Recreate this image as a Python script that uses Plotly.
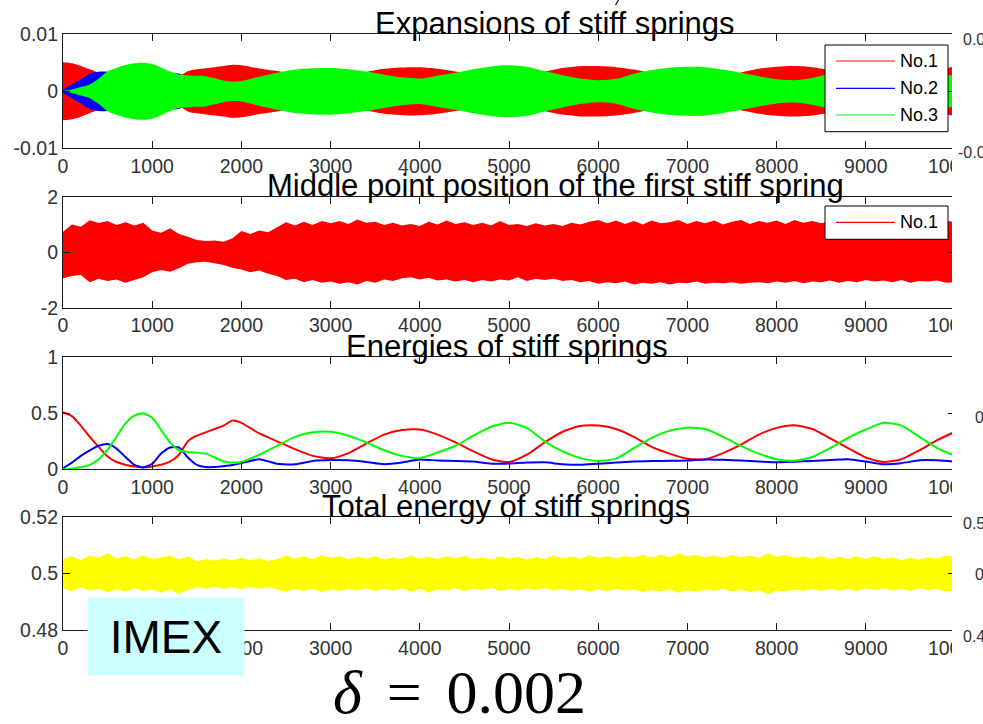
import plotly.graph_objects as go

W, H = 983, 724

# ---------------------------------------------------------------- data
# time grid for the slowly varying quantities (finer at the start)
t_energy = list(range(0, 2001, 100)) + list(range(2200, 10001, 200))
# time grid for the fast, noisy envelopes
t_fine = list(range(0, 10001, 100))
x_ticks = list(range(0, 10001, 1000))

# energies of the three stiff springs
energy_1 = [0.51, 0.475, 0.39, 0.29, 0.20, 0.115, 0.065, 0.04, 0.025, 0.018, 0.026,
            0.04, 0.068, 0.13, 0.25, 0.30, 0.33, 0.36, 0.39, 0.435, 0.415,
            0.32, 0.25, 0.18, 0.12, 0.098, 0.145, 0.23, 0.31, 0.35, 0.355,
            0.31, 0.24, 0.16, 0.09, 0.065, 0.13, 0.24, 0.335, 0.387, 0.39,
            0.36, 0.29, 0.2, 0.14, 0.095, 0.09, 0.145, 0.22, 0.31, 0.37,
            0.393, 0.36, 0.277, 0.19, 0.105, 0.065, 0.09, 0.17, 0.26, 0.335]
energy_2 = [0.01, 0.06, 0.12, 0.17, 0.21, 0.225, 0.185, 0.11, 0.04, 0.017, 0.05,
            0.14, 0.195, 0.195, 0.105, 0.04, 0.02, 0.02, 0.028, 0.038, 0.055,
            0.09, 0.05, 0.045, 0.075, 0.083, 0.08, 0.065, 0.045, 0.06, 0.088,
            0.078, 0.075, 0.07, 0.05, 0.052, 0.06, 0.062, 0.045, 0.04, 0.05,
            0.06, 0.07, 0.074, 0.076, 0.078, 0.088, 0.085, 0.078, 0.07, 0.062,
            0.068, 0.074, 0.082, 0.09, 0.07, 0.045, 0.055, 0.08, 0.08, 0.068]
energy_3 = [0.0, 0.006, 0.02, 0.04, 0.09, 0.175, 0.29, 0.41, 0.48, 0.5, 0.46,
            0.35, 0.24, 0.17, 0.155, 0.148, 0.14, 0.105, 0.072, 0.058, 0.065,
            0.13, 0.21, 0.29, 0.33, 0.336, 0.30, 0.24, 0.17, 0.12, 0.1,
            0.15, 0.21, 0.3, 0.38, 0.415, 0.37, 0.25, 0.16, 0.1, 0.075,
            0.095, 0.19, 0.28, 0.345, 0.372, 0.36, 0.29, 0.21, 0.14, 0.09,
            0.077, 0.11, 0.19, 0.28, 0.355, 0.415, 0.39, 0.29, 0.19, 0.12]

# oscillation amplitude of each spring's expansion, in units of 1e-3
expansion_1_e3 = [5.1, 4.9, 4.45, 3.85, 3.2, 2.4, 1.8, 1.4, 1.1, 0.95, 1.15,
                  1.41, 1.84, 2.55, 3.54, 3.87, 4.06, 4.24, 4.42, 4.66, 4.56,
                  4.0, 3.54, 3.0, 2.45, 2.21, 2.69, 3.39, 3.94, 4.18, 4.21,
                  3.94, 3.46, 2.83, 2.12, 1.8, 2.55, 3.46, 4.09, 4.4, 4.42,
                  4.24, 3.81, 3.16, 2.65, 2.18, 2.12, 2.69, 3.32, 3.94, 4.3,
                  4.43, 4.24, 3.72, 3.08, 2.29, 1.8, 2.12, 2.92, 3.6, 4.09]
expansion_2_e3 = [0.3, 1.2, 2.1, 3.1, 3.45, 3.45, 3.1, 2.4, 1.45, 0.95, 1.55,
                  2.65, 3.12, 3.12, 2.3, 1.41, 1.0, 1.0, 1.18, 1.38, 1.66,
                  2.12, 1.58, 1.5, 1.94, 2.04, 2.0, 1.8, 1.5, 1.73, 2.1,
                  1.97, 1.94, 1.87, 1.58, 1.61, 1.73, 1.76, 1.5, 1.41, 1.58,
                  1.73, 1.87, 1.92, 1.95, 1.97, 2.1, 2.06, 1.97, 1.87, 1.76,
                  1.84, 1.92, 2.02, 2.12, 1.87, 1.5, 1.66, 2.0, 2.0, 1.84]
expansion_3_e3 = [0.0, 0.3, 0.75, 1.2, 2.2, 3.5, 4.1, 4.6, 4.9, 5.0, 4.8,
                  4.18, 3.46, 2.95, 2.78, 2.72, 2.65, 2.29, 1.9, 1.7, 1.8,
                  2.55, 3.24, 3.81, 4.06, 4.1, 3.87, 3.46, 2.92, 2.45, 2.24,
                  2.74, 3.24, 3.87, 4.36, 4.55, 4.3, 3.54, 2.83, 2.24, 1.94,
                  2.18, 3.08, 3.74, 4.15, 4.31, 4.24, 3.81, 3.24, 2.65, 2.12,
                  1.96, 2.35, 3.08, 3.74, 4.21, 4.55, 4.42, 3.81, 3.08, 2.45]

# extremes of the middle point position of spring No.1
mid_upper = [0.74, 1.0, 0.92, 1.15, 1.05, 1.12, 0.98, 1.08, 0.96, 1.06,
             0.78, 0.7, 0.86, 0.66, 0.56, 0.44, 0.4, 0.42, 0.38, 0.5,
             0.76, 0.66, 0.78, 0.72, 0.9, 1.08, 0.96, 1.1, 0.98, 1.12,
             1.04, 1.12, 1.02, 1.18, 1.06, 1.1, 0.98, 1.06, 0.96, 1.02,
             0.94, 1.1, 1.0, 1.14, 1.02, 1.08, 0.98, 1.06, 0.96, 1.12,
             0.98, 1.02, 0.94, 1.04, 0.96, 1.02, 0.94, 1.06, 1.0, 1.1,
             1.16, 1.04, 1.14, 1.02, 1.12, 1.0, 1.14, 1.04, 1.08, 1.16,
             1.02, 1.12, 1.04, 1.14, 1.0, 1.1, 1.16, 1.02, 1.12, 1.06,
             1.14, 1.02, 1.16, 1.06, 1.12, 1.04, 1.1, 1.16, 1.04, 1.12,
             1.06, 1.14, 1.02, 1.1, 1.06, 1.14, 1.02, 1.12, 1.04, 1.14,
             1.08]
mid_lower = [-0.94, -0.86, -0.82, -1.08, -0.96, -1.04, -0.98, -1.1, -1.0, -0.9,
             -0.72, -0.64, -0.7, -0.58, -0.42, -0.36, -0.34, -0.4, -0.46, -0.56,
             -0.62, -0.72, -0.66, -0.78, -0.86, -1.0, -0.96, -1.08, -1.0, -1.1,
             -1.06, -1.14, -1.08, -1.16, -1.04, -1.1, -0.98, -1.04, -0.94, -0.9,
             -0.98, -0.92, -1.02, -0.98, -1.06, -1.0, -1.08, -1.0, -1.06, -0.98,
             -1.02, -0.9, -1.04, -0.96, -1.0, -0.96, -1.04, -1.0, -1.08, -1.04,
             -1.14, -1.08, -1.12, -1.06, -1.16, -1.1, -1.14, -1.08, -1.16, -1.1,
             -1.12, -1.06, -1.14, -1.1, -1.12, -1.08, -1.14, -1.1, -1.08, -1.12,
             -1.06, -1.1, -1.04, -1.12, -1.06, -1.08, -1.02, -1.1, -1.04, -1.08,
             -1.0, -1.06, -1.02, -1.08, -1.0, -1.1, -1.04, -1.06, -1.02, -1.1,
             -1.08]

# extremes of the total energy of the stiff springs
total_upper = [0.5052, 0.5062, 0.5048, 0.5064, 0.5056, 0.5072, 0.5054, 0.5063, 0.505, 0.5066,
               0.5052, 0.5058, 0.5064, 0.505, 0.5062, 0.5044, 0.5052, 0.5046, 0.5054, 0.5048,
               0.5056, 0.5047, 0.5055, 0.5045, 0.5052, 0.5064, 0.5054, 0.5062, 0.5052, 0.5066,
               0.5056, 0.5063, 0.5052, 0.506, 0.5054, 0.5062, 0.505, 0.5058, 0.5052, 0.5064,
               0.5054, 0.506, 0.5052, 0.5062, 0.5055, 0.5063, 0.5052, 0.5058, 0.505, 0.5062,
               0.5054, 0.506, 0.505, 0.5058, 0.5052, 0.5064, 0.5055, 0.5061, 0.5053, 0.5066,
               0.5056, 0.5062, 0.5054, 0.5063, 0.5058, 0.5066, 0.5056, 0.5068, 0.5058, 0.5072,
               0.5062, 0.5066, 0.5058, 0.5064, 0.5056, 0.5066, 0.5058, 0.5064, 0.5056, 0.5072,
               0.506, 0.5066, 0.5056, 0.5062, 0.5054, 0.5063, 0.5052, 0.506, 0.5054, 0.5061,
               0.5052, 0.5062, 0.5052, 0.5058, 0.5048, 0.5056, 0.505, 0.5058, 0.5054, 0.5064,
               0.5058]
total_lower = [0.4948, 0.4938, 0.4952, 0.494, 0.4946, 0.4934, 0.4945, 0.4936, 0.4948, 0.4938,
               0.4944, 0.4932, 0.4944, 0.4928, 0.4942, 0.4952, 0.4946, 0.4954, 0.4946, 0.4952,
               0.4945, 0.4953, 0.4946, 0.4952, 0.4944, 0.4936, 0.4946, 0.4938, 0.4946, 0.4934,
               0.4944, 0.4938, 0.4946, 0.494, 0.4948, 0.4938, 0.4946, 0.494, 0.4948, 0.4936,
               0.4946, 0.4932, 0.4944, 0.494, 0.4948, 0.4938, 0.4946, 0.4942, 0.495, 0.4938,
               0.4946, 0.494, 0.4948, 0.4942, 0.495, 0.494, 0.4946, 0.4938, 0.4945, 0.4936,
               0.4944, 0.4938, 0.4946, 0.494, 0.4944, 0.4934, 0.4942, 0.4936, 0.4944, 0.4932,
               0.494, 0.4936, 0.4944, 0.4938, 0.4946, 0.4936, 0.4944, 0.4934, 0.4942, 0.4928,
               0.494, 0.4936, 0.4944, 0.4938, 0.4946, 0.4938, 0.4946, 0.494, 0.4946, 0.4938,
               0.4948, 0.4942, 0.4948, 0.494, 0.4946, 0.4938, 0.4948, 0.4942, 0.4946, 0.4936,
               0.4942]

for series in (energy_1, energy_2, energy_3, expansion_1_e3, expansion_2_e3, expansion_3_e3):
    assert len(series) == len(t_energy)
for series in (mid_upper, mid_lower, total_upper, total_lower):
    assert len(series) == len(t_fine)

RED, BLUE, GREEN, YELLOW = "#ff0000", "#0000ff", "#00ff00", "#ffff00"
SANS = "Liberation Sans, Arial, Helvetica, sans-serif"
AXIS = "#1a1a1a"


def px(x):
    return x / W


def py(y):
    return 1 - y / H


fig = go.Figure()


def band(x, upper, lower, color, ax, shape="linear"):
    """Filled region between two envelopes (dense oscillation)."""
    fig.add_trace(go.Scatter(
        x=list(x) + list(x)[::-1], y=list(upper) + list(lower)[::-1],
        mode="lines", fill="toself", fillcolor=color,
        line=dict(width=0, color=color, shape=shape, smoothing=0.8),
        xaxis="x" + ax, yaxis="y" + ax, hoverinfo="skip", showlegend=False))


# panel 1: expansions of the stiff springs
for amp, color in ((expansion_1_e3, RED), (expansion_2_e3, BLUE), (expansion_3_e3, GREEN)):
    a = [v * 1e-3 for v in amp]
    band(t_energy, a, [-v for v in a], color, "", shape="spline")

# panel 2: middle point position of spring No.1
band(t_fine, mid_upper, mid_lower, RED, "2")

# panel 3: energies
for e, color in ((energy_1, RED), (energy_2, BLUE), (energy_3, GREEN)):
    fig.add_trace(go.Scatter(x=t_energy, y=e, mode="lines",
                             line=dict(color=color, width=2, shape="spline", smoothing=0.6),
                             xaxis="x3", yaxis="y3", hoverinfo="skip", showlegend=False))

# panel 4: total energy
band(t_fine, total_upper, total_lower, YELLOW, "4")

# ---------------------------------------------------------------- axes
tick_font = dict(family=SANS, size=19.5, color="#333333")
x_common = dict(range=[0, 10000], domain=[px(63), px(955)], showline=True,
                linecolor=AXIS, linewidth=1.2, mirror="ticks", ticks="inside",
                ticklen=7, tickwidth=1.2, tickcolor=AXIS, tickvals=x_ticks,
                ticktext=[str(v) for v in x_ticks], showgrid=False, zeroline=False,
                tickfont=tick_font, fixedrange=True, automargin=False)
y_common = dict(showline=True, linecolor=AXIS, linewidth=1.2, mirror="ticks",
                ticks="inside", ticklen=7, tickwidth=1.2, tickcolor=AXIS,
                showgrid=False, zeroline=False, tickfont=tick_font, fixedrange=True,
                automargin=False)

panels = [  # (suffix, top px, bottom px, y range, tick values, tick text)
    ("", 34.3, 148.3, [-0.01, 0.01], [-0.01, 0, 0.01], ["-0.01", "0", "0.01"]),
    ("2", 196.7, 307.7, [-2, 2], [-2, 0, 2], ["-2", "0", "2"]),
    ("3", 357.3, 469.3, [0, 1], [0, 0.5, 1], ["0", "0.5", "1"]),
    ("4", 517.3, 630.0, [0.48, 0.52], [0.48, 0.5, 0.52], ["0.48", "0.5", "0.52"]),
]
layout_axes = {}
for suf, top, bot, yr, tv, tt in panels:
    layout_axes["xaxis" + suf] = dict(x_common, anchor="y" + suf)
    layout_axes["yaxis" + suf] = dict(y_common, anchor="x" + suf, range=yr,
                                      domain=[py(bot), py(top)], tickvals=tv, ticktext=tt)

# ---------------------------------------------------------------- text
annotations = []
titles = [("Expansions of stiff springs", 555, 33.3),
          ("Middle point position of the first stiff spring", 555, 195.0),
          ("Energies of stiff springs", 507, 356.7),
          ("Total energy of stiff springs", 506, 516.0)]
for text, cx, base in titles:
    annotations.append(dict(text=text, x=px(cx), y=py(base - 10), xref="paper", yref="paper",
                            xanchor="center", yanchor="middle", showarrow=False,
                            font=dict(family=SANS, size=31, color="#000000")))

# tick labels of the neighbouring axes at the right edge
side_font = dict(family=SANS, size=16, color="#333333")
for text, x0, yc in (("0.01", 961, 39), ("-0.01", 956, 152), ("0.5", 973, 417.5),
                     ("0.52", 961, 523), ("0.5", 973, 574), ("0.48", 961, 636)):
    annotations.append(dict(text=text, x=px(x0), y=py(yc), xref="paper", yref="paper",
                            xanchor="left", yanchor="middle", showarrow=False,
                            font=side_font))

# legends
LEG_FONT = dict(family=SANS, size=18, color="#000000")
shapes = [dict(type="rect", xref="paper", yref="paper", x0=px(952), x1=1.0, y0=0, y1=1,
               fillcolor="#ffffff", line=dict(width=0), layer="above"),
          # stroke of a character just above the top title
          dict(type="line", xref="paper", yref="paper", x0=px(618.5), y0=py(0),
               x1=px(615.5), y1=py(5), line=dict(color="#000000", width=1.2))]
legends = [((45, 131.7), [("No.1", RED, 61), ("No.2", BLUE, 88.3), ("No.3", GREEN, 115)]),
           ((206, 239.3), [("No.1", RED, 222.3)])]
for (top, bot), items in legends:
    shapes.append(dict(type="rect", xref="paper", yref="paper", x0=px(825), x1=px(948),
                       y0=py(bot), y1=py(top), fillcolor="#ffffff",
                       line=dict(color="#000000", width=1), layer="above"))
    for label, color, yc in items:
        shapes.append(dict(type="line", xref="paper", yref="paper", x0=px(836), x1=px(895),
                           y0=py(yc), y1=py(yc), line=dict(color=color, width=1.2),
                           layer="above"))
        annotations.append(dict(text=label, x=px(898), y=py(yc), xref="paper", yref="paper",
                                xanchor="left", yanchor="middle", showarrow=False,
                                font=LEG_FONT))

# method label and step size
annotations.append(dict(text="IMEX", x=px(166), y=py(636), xref="paper", yref="paper",
                        xanchor="center", yanchor="middle", showarrow=False,
                        width=156, height=77, bgcolor="#ccffff", borderpad=0,
                        font=dict(family=SANS, size=46, color="#000000")))
annotations.append(dict(text="<i>δ</i>\u2009\u2009=\u2009\u20090.002", x=px(459), y=py(692),
                        xref="paper", yref="paper", xanchor="center", yanchor="middle",
                        showarrow=False,
                        font=dict(family="Liberation Serif, Times New Roman, serif",
                                  size=62, color="#000000")))

fig.update_layout(width=W, height=H,
                  margin=dict(l=0, r=0, t=0, b=0, pad=0, autoexpand=False),
                  paper_bgcolor="#ffffff", plot_bgcolor="#ffffff",
                  showlegend=False, annotations=annotations, shapes=shapes,
                  **layout_axes)

fig.write_html("out.html", config={"displayModeBar": False})
